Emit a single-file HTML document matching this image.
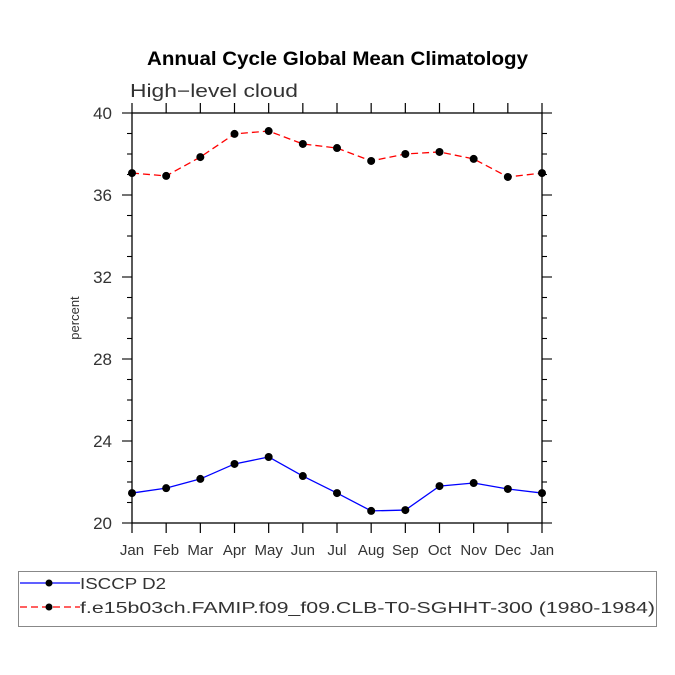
<!DOCTYPE html>
<html><head><meta charset="utf-8"><style>
html,body{margin:0;padding:0;background:#fff;}
svg{display:block;font-family:"Liberation Sans",sans-serif;}
</style></head><body>
<svg id="chart" width="675" height="675" viewBox="0 0 675 675">
<text x="147" y="65" textLength="381" lengthAdjust="spacingAndGlyphs" font-size="19" font-weight="bold" fill="#000">Annual Cycle Global Mean Climatology</text>
<text x="130" y="97" textLength="168" lengthAdjust="spacingAndGlyphs" font-size="18" fill="#333">High−level cloud</text>
<text transform="translate(79,318) rotate(-90)" text-anchor="middle" font-size="13" fill="#333">percent</text>
<g id="axes"></g>
<g id="series"></g>
<g>
<rect x="18.5" y="571.5" width="638" height="55" fill="none" stroke="#888" stroke-width="1"/>
<g>
<line x1="20" y1="583" x2="80" y2="583" stroke="#0000ff" stroke-width="1.3"/>
<circle cx="49" cy="583" r="3.5" fill="#000"/>
<text x="80" y="589" textLength="86" lengthAdjust="spacingAndGlyphs" font-size="16" fill="#333">ISCCP D2</text>
</g>
<g>
<line x1="20" y1="607" x2="80" y2="607" stroke="#ff0000" stroke-width="1.3" stroke-dasharray="7,4"/>
<circle cx="49" cy="607" r="3.5" fill="#000"/>
<text x="80" y="613" textLength="575" lengthAdjust="spacingAndGlyphs" font-size="16" fill="#333">f.e15b03ch.FAMIP.f09_f09.CLB-T0-SGHHT-300 (1980-1984)</text>
</g>
</g>
</svg>
<script>
const months = ["Jan","Feb","Mar","Apr","May","Jun","Jul","Aug","Sep","Oct","Nov","Dec","Jan"];
const isccp = [21.46,21.7,22.15,22.88,23.22,22.29,21.46,20.59,20.63,21.8,21.95,21.66,21.46];
const model = [37.07,36.93,37.85,38.98,39.12,38.49,38.29,37.66,38.0,38.1,37.76,36.88,37.07];
const yTicks = [20,24,28,32,36,40];

const NS="http://www.w3.org/2000/svg";
const L=132,R=542,T=113,B=523,YMIN=20,YMAX=40;
const xs=i=>L+(R-L)*i/(months.length-1);
const ys=v=>B-(B-T)*(v-YMIN)/(YMAX-YMIN);
function mk(tag,attrs,parent){const e=document.createElementNS(NS,tag);for(const k in attrs)e.setAttribute(k,attrs[k]);parent.appendChild(e);return e;}
const ax=document.getElementById('axes');
const frame=mk('rect',{x:L,y:T,width:R-L,height:B-T,fill:'none',stroke:'#000','stroke-width':1.3},ax);


months.forEach((m,i)=>{
  const x=xs(i);
  mk('line',{x1:x,y1:B,x2:x,y2:B+10,stroke:'#000','stroke-width':1.2},ax);
  mk('line',{x1:x,y1:T,x2:x,y2:T-10,stroke:'#000','stroke-width':1.2},ax);
  const t=mk('text',{x:x,y:B+32,'text-anchor':'middle','font-size':15,fill:'#333'},ax);
  t.textContent=m;
  
  
});
for(let v=YMIN;v<=YMAX;v+=1){
  const y=ys(v),maj=(v-YMIN)%4===0,len=maj?10:5;
  mk('line',{x1:L,y1:y,x2:L-len,y2:y,stroke:'#000','stroke-width':1.1},ax);
  mk('line',{x1:R,y1:y,x2:R+len,y2:y,stroke:'#000','stroke-width':1.1},ax);
}
yTicks.forEach(v=>{
  const t=mk('text',{x:112,y:ys(v)+6,'text-anchor':'end','font-size':17,fill:'#333'},ax);
  t.textContent=v;
  
  
});
const sg=document.getElementById('series');
function series(data,color,dash,name){
  const g=mk('g',{},sg);
  
  
  const p=mk('polyline',{points:data.map((v,i)=>xs(i)+','+ys(v)).join(' '),fill:'none',stroke:color,'stroke-width':1.3},g);
  if(dash)p.setAttribute('stroke-dasharray',dash);
  data.forEach((v,i)=>{
    const c=mk('circle',{cx:xs(i),cy:ys(v),r:4,fill:'#000'},g);
    
    
  });
}
series(model,'#ff0000','7,4','model-series');
series(isccp,'#0000ff',null,'isccp-series');
</script>
</body></html>
